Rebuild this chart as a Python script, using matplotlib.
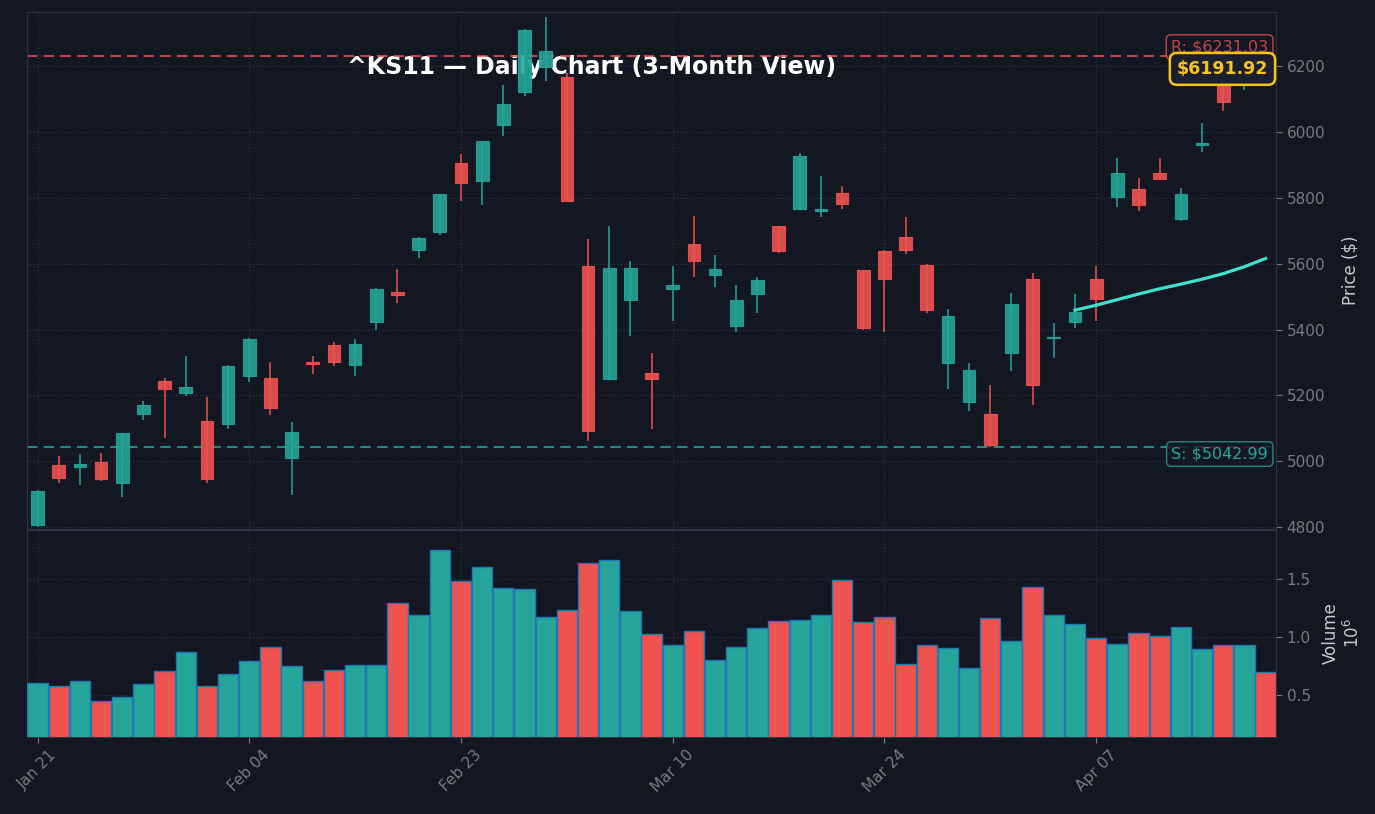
import matplotlib
matplotlib.use("Agg")
import matplotlib.pyplot as plt
from matplotlib.ticker import FormatStrFormatter, MultipleLocator
import numpy as np

# ---- data (one row per trading day) ----
opens = [4806, 4988, 4983, 4997, 4933, 5145, 5243, 5208, 5122, 5114,
         5260, 5252, 5011, 5301, 5353, 5293, 5423, 5514, 5642, 5697,
         5905, 5852, 6022, 6122, 6198, 6168, 5593, 5250, 5490, 5268,
         5524, 5659, 5566, 5411, 5509, 5714, 5766, 5760, 5814, 5580,
         5638, 5681, 5596, 5299, 5181, 5143, 5329, 5553, 5375, 5423,
         5553, 5803, 5828, 5877, 5735, 5961, 6155, 6150, 6215]
highs = [4912, 5017, 5021, 5024, 5087, 5184, 5252, 5320, 5196, 5291,
         5375, 5302, 5120, 5320, 5363, 5371, 5525, 5583, 5682, 5813,
         5932, 5974, 6144, 6314, 6348, 6180, 5674, 5715, 5609, 5328,
         5594, 5745, 5628, 5535, 5560, 5716, 5935, 5865, 5835, 5582,
         5643, 5741, 5598, 5464, 5297, 5233, 5512, 5572, 5419, 5507,
         5594, 5920, 5861, 5920, 5829, 6026, 6170, 6240, 6230]
lows = [4800, 4933, 4928, 4941, 4890, 5125, 5072, 5199, 4933, 5099,
        5241, 5142, 4899, 5264, 5289, 5259, 5400, 5482, 5616, 5686,
        5791, 5777, 5987, 6109, 6154, 5788, 5061, 5247, 5381, 5097,
        5427, 5560, 5528, 5392, 5449, 5634, 5764, 5741, 5765, 5398,
        5393, 5631, 5449, 5221, 5152, 5044, 5274, 5170, 5315, 5406,
        5425, 5773, 5759, 5853, 5731, 5938, 6064, 6127, 6180]
closes = [4909, 4950, 4991, 4947, 5085, 5170, 5220, 5225, 4947, 5289,
          5371, 5163, 5088, 5296, 5302, 5356, 5523, 5506, 5678, 5811,
          5846, 5972, 6085, 6309, 6246, 5790, 5092, 5588, 5588, 5250,
          5535, 5609, 5583, 5489, 5550, 5639, 5927, 5766, 5782, 5405,
          5554, 5642, 5460, 5441, 5277, 5049, 5479, 5232, 5377, 5452,
          5493, 5875, 5779, 5857, 5811, 5968, 6092, 6210, 6191.92]
volumes = [601000, 575000, 618000, 445000, 483000, 592000, 704000, 868000,
           575000, 678000, 790000, 911000, 747000, 618000, 713000, 756000,
           756000, 1290000, 1187000, 1747000, 1480000, 1601000, 1420000,
           1411000, 1170000, 1230000, 1635000, 1661000, 1221000, 1023000,
           928000, 1049000, 799000, 911000, 1075000, 1135000, 1144000,
           1187000, 1489000, 1127000, 1170000, 765000, 928000, 902000,
           730000, 1161000, 963000, 1428000, 1187000, 1109000, 989000,
           937000, 1032000, 1006000, 1084000, 894000, 928000, 928000, 696000]
# 50-day moving average, only drawn for the last bars
sma_start = 49
sma_values = [5459, 5474, 5491, 5508, 5524, 5538, 5553, 5570, 5591, 5616]

tick_pos = [0, 10, 20, 30, 40, 50]
tick_labels = ["Jan 21", "Feb 04", "Feb 23", "Mar 10", "Mar 24", "Apr 07"]
resistance = 6231.03
support = 5042.99
ticker = "^KS11"

# ---- style ----
BG = "#131722"
GRID = "#2f3340"
UP = "#26a69a"
DOWN = "#ef5350"
TXT = "#787b86"

fig = plt.figure(figsize=(13.75, 8.14), dpi=100, facecolor=BG)
ax = fig.add_axes([0.0196, 0.350, 0.9085, 0.635])
axv = fig.add_axes([0.0196, 0.0946, 0.9085, 0.2544], sharex=ax)

o = np.array(opens, dtype=float)
h = np.array(highs, dtype=float)
l = np.array(lows, dtype=float)
c = np.array(closes, dtype=float)
v = np.array(volumes, dtype=float) / 1e6
x = np.arange(len(c))
up = c >= o
cols = np.where(up, UP, DOWN)

for a in (ax, axv):
    a.set_facecolor(BG)
    for s in a.spines.values():
        s.set_color(GRID)
    a.grid(True, color=GRID, linestyle=":", linewidth=0.9)
    a.set_axisbelow(True)
    a.yaxis.tick_right()
    a.yaxis.set_label_position("right")
    a.tick_params(colors=TXT, labelsize=11, length=4)

# candles
ax.vlines(x, l, h, colors=cols, linewidth=1.1, zorder=2)
ax.bar(x, np.abs(c - o), bottom=np.minimum(o, c), width=0.6, color=cols,
       edgecolor=cols, linewidth=0.8, alpha=0.9, zorder=3)

# moving average
ax.plot(x[sma_start:], sma_values, color="#3fe0cc", linewidth=2.3, zorder=4)

# support / resistance
ax.axhline(resistance, color=DOWN, linestyle=(0, (5, 3)), linewidth=1.5, alpha=0.8, zorder=2)
ax.axhline(support, color=UP, linestyle=(0, (5, 3)), linewidth=1.5, alpha=0.8, zorder=2)

tr = ax.get_yaxis_transform()
ax.text(0.9936, resistance + 27, f"R: ${resistance:.2f}", transform=tr, ha="right",
        va="center", fontsize=11.5, color=DOWN, alpha=0.8, zorder=5,
        bbox=dict(boxstyle="round,pad=0.3", fc=BG, ec=DOWN, alpha=0.8))
ax.text(0.9936, support - 21, f"S: ${support:.2f}", transform=tr, ha="right",
        va="center", fontsize=11.5, color=UP, zorder=5,
        bbox=dict(boxstyle="round,pad=0.3", fc=BG, ec=UP, alpha=0.8))
ax.text(0.9936, c[-1], f"${c[-1]:.2f}", transform=tr, ha="right", va="center",
        fontsize=12.5, fontweight="bold", color="#f5c518", zorder=6,
        bbox=dict(boxstyle="round,pad=0.4", fc="#1c1f2e", ec="#f5c518", lw=1.8))

ax.text(0.452, 0.8936, f"{ticker} — Daily Chart (3-Month View)", transform=ax.transAxes,
        ha="center", va="center", fontsize=17, fontweight="bold", color="white", zorder=1)

ax.set_ylim(4794, 6364)
ax.yaxis.set_major_locator(MultipleLocator(200))
ax.set_ylabel("Price ($)", color="#c5c8d0", fontsize=12, labelpad=12)
ax.tick_params(axis="x", labelbottom=False, length=0)

# volume
axv.bar(x, v, width=0.96, color=cols, edgecolor="#1f77b4", linewidth=1.0, zorder=3)
axv.set_ylim(0.138, 1.922)
axv.yaxis.set_major_locator(MultipleLocator(0.5))
axv.yaxis.set_major_formatter(FormatStrFormatter("%.1f"))
axv.set_ylabel("Volume\n$10^6$", color="#c5c8d0", fontsize=12, labelpad=8)
axv.set_xlim(-0.5, len(c) - 0.5)
axv.set_xticks(tick_pos)
axv.set_xticklabels(tick_labels, rotation=45, ha="center")

fig.savefig("out.png", facecolor=BG)
